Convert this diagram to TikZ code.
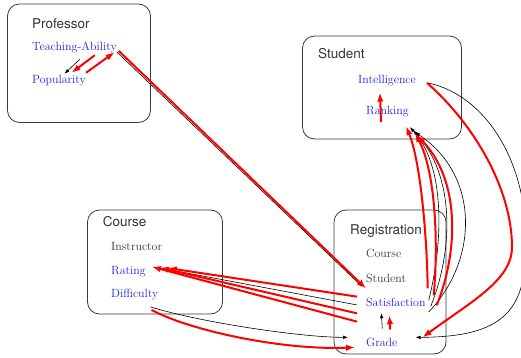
\documentclass[tikz,border=0pt]{standalone}
\usepackage{fontspec}
\setsansfont{TeX Gyre Heros}
\usetikzlibrary{arrows.meta, calc}
\definecolor{varblue}{HTML}{2222DD}
\definecolor{txtgray}{HTML}{333333}
\definecolor{boxgray}{HTML}{3A3A3A}
\definecolor{learnred}{HTML}{FF0000}
\newcommand{\attrfont}{\fontsize{11.9}{14}\selectfont}
\newcommand{\classfont}{\sffamily\fontsize{13.5}{16}\selectfont}

\begin{document}
\begin{tikzpicture}[x=1pt, y=-1pt,
    box/.style={draw=boxgray, line width=0.8pt, rounded corners=12pt},
    cls/.style={font=\classfont, text=txtgray, anchor=base west, inner sep=0pt},
    var/.style={font=\attrfont, text=varblue, anchor=base west, inner sep=1pt, text height=8.3pt, text depth=3pt},
    key/.style={var, text=txtgray},
    truth/.style={black, line width=0.6pt, -{Latex[length=5pt, width=3.6pt]}},
    learned/.style={learnred, line width=2pt, -{Latex[length=9pt, width=6.5pt]}}]
    \useasboundingbox (0,0) rectangle (521,358);

    % class boxes
    \draw[box] (7.5,4) rectangle (150.5,122.5);
    \draw[box] (302.5,36) rectangle (461.5,139);
    \draw[box] (87.5,210) rectangle (222.5,314);
    \draw[box] (334,210) rectangle (446,354);

    % Professor
    \node[cls] (proflbl) at (32,28.3) {Professor};
    \node[var] (ta) at (31,50.7) {Teaching-Ability};
    \node[var] (pop) at (31,83.3) {Popularity};

    % Student
    \node[cls] (studlbl) at (318,59) {Student};
    \node[var] (intel) at (357,83.3) {Intelligence};
    \node[var] (rank) at (365,115) {Ranking};

    % Course
    \node[cls] (courselbl) at (102.7,226.7) {Course};
    \node[key] (instr) at (110,250) {Instructor};
    \node[var] (rating) at (110,274) {Rating};
    \node[var] (diff) at (110,297.7) {Difficulty};

    % Registration
    \node[cls] (reglbl) at (350,234.3) {Registration};
    \node[key] (regcourse) at (365,257.7) {Course};
    \node[key] (regstud) at (365,282.3) {Student};
    \node[var] (sat) at (365,306) {Satisfaction};
    \node[var] (grade) at (365,346) {Grade};

    % true dependencies (thin black)
    \draw[truth] ($(ta.south)+(5.4,4.3)$) -- ($(pop.north)+(5.5,0)$);
    \draw[truth] ($(ta.east)+(-1,4)$) -- ($(sat.north west)+(-3,-10)$);
    \foreach \sx/\sy/\ax/\ay/\bx/\by/\ex/\ey in {2/-3/15/-60/35/38/0/8, 4/3/23/-57/42/45/3/11, 2/8.6/50/-52/65/43/5/13}
      \draw[truth] ($(sat.east)+(\sx,\sy)$) .. controls +(\ax,\ay) and +(\bx,\by) .. ($(rank.south east)+(\ex,\ey)$);
    \draw[truth] ($(sat.west)+(-8,1.6)$) -- ($(rating.east)+(23,-1.5)$);
    \draw[truth] ($(diff.south east)+(-9,5)$) .. controls +(48,15) and +(-48,0) .. ($(grade.west)+(-17,-6)$);
    \draw[truth] ($(grade.north)+(0.5,-8)$) -- ($(sat.south)+(-14.5,3)$);
    \draw[truth] ($(intel.east)+(11,2.3)$) .. controls (485,95) and (526,160) .. (526,240)
      .. controls (527,310) and (505,337) .. ($(grade.east)+(17,-6)$);

    % learned dependencies (thick red)
    \draw[learned] ($(ta.south)+(20.4,0.3)$) -- ($(pop.north)+(12.5,-1)$);
    \draw[learned] ($(pop.north east)+(-1,-1)$) -- ($(ta.south east)+(-3.3,-2.7)$);
    \draw[learned] ($(ta.east)+(1,3)$) -- ($(sat.north west)+(1,-8)$);
    \draw[learned] ($(rank.south)+(-6.5,3)$) -- ($(intel.south)+(-7,5)$);
    \foreach \sx/\sy/\ax/\ay/\bx/\by/\ex/\ey in {1/-15/-1/-58/14/34/-4/7, 7/-8/5/-55/20/37/5/14, 10/2/22/-55/43/45/7/16}
      \draw[learned] ($(sat.east)+(\sx,\sy)$) .. controls +(\ax,\ay) and +(\bx,\by) .. ($(rank.south east)+(\ex,\ey)$);
    \foreach \sy/\ex/\ey in {-6.7/21/-3.3, 10/13/-3.7, 18.3/5/-4.6}
      \draw[learned] ($(sat.west)+(-8,\sy)$) -- ($(rating.east)+(\ex,\ey)$);
    \draw[learned] ($(diff.south east)+(-8,8)$) .. controls +(37,20) and +(-75,3) .. ($(grade.west)+(-10,4)$);
    \draw[learned] ($(grade.north)+(8.5,-7)$) -- ($(sat.south)+(-6.5,5)$);
    \draw[learned] ($(intel.east)+(10,2.3)$) .. controls (475,125) and (512,190) .. (512,247)
      .. controls (512,280) and (472,301) .. ($(grade.east)+(24,-6)$);
\end{tikzpicture}
\end{document}
